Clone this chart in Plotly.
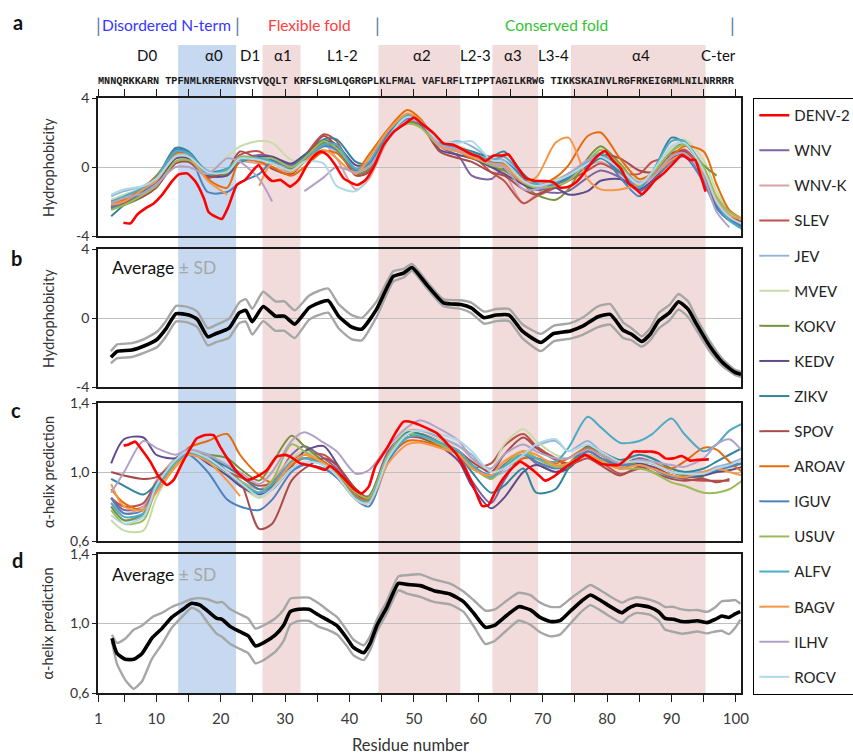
import plotly.graph_objects as go
from plotly.subplots import make_subplots

# ---------------- DATA ----------------
viruses = ["DENV-2", "WNV", "WNV-K", "SLEV", "JEV", "MVEV", "KOKV", "KEDV", "ZIKV",
           "SPOV", "AROAV", "IGUV", "USUV", "ALFV", "BAGV", "ILHV", "ROCV"]

# residue positions at which the (non DENV-2) profiles were read
grid_res = [3, 5, 8, 10, 13, 15, 18, 21, 23, 26, 28, 31, 33, 36, 38, 41, 43, 46, 49, 51,
            54, 57, 59, 62, 64, 67, 69, 72, 74, 77, 79, 82, 85, 87, 90, 92, 95, 97, 99, 101]

# panel a: hydrophobicity
hyd_wnv = [-2.3, -1.9, -1.4, -0.9, 0.6, 0.5, -0.6, -0.3, 0.4, 0.7, 0.6, 0.1, 0.5, 1.4, 1.0, -0.2, 0.1, 2.0, 2.8, 2.6,
           1.2, 0.6, -0.5, -0.7, -0.1, -1.0, -1.3, -1.5, -1.4, -0.6, -0.2, -0.6, -1.4, -0.9, 0.5, 1.0, -0.6, -2.2, -3.0, -3.3]
hyd_wnvk = [-2.0, -1.7, -1.3, -0.9, 0.5, 0.4, -0.4, -0.4, 0.3, 0.2, 0.0, -0.3, 0.3, 1.3, 0.5, -1.3, -0.7, 1.6, 2.8, 2.6,
            1.2, 0.9, 0.6, 0.2, -0.3, -2.1, -1.6, -1.0, -0.6, 0.1, 0.3, -0.4, -1.1, -0.6, 0.7, 0.9, -0.4, -2.0, -2.9, -3.2]
hyd_slev = [-2.4, -2.1, -1.6, -1.0, 0.4, 0.5, -0.5, -0.3, 0.7, 0.9, 0.3, -0.2, 0.6, 1.9, 1.5, -0.4, -0.2, 1.8, 2.9, 2.6,
            1.3, 1.0, 0.7, -0.3, -0.8, -2.1, -1.7, -1.2, -0.8, -0.2, 0.2, -0.3, -0.4, 0.3, 0.6, 1.0, -0.3, -1.9, -2.8, -3.1]
hyd_jev = [-1.7, -1.4, -1.1, -0.6, 0.7, 0.7, -0.2, -0.3, 0.4, 0.5, 0.3, -0.3, 0.3, 1.2, 0.9, -0.3, 0.1, 2.0, 3.0, 2.7,
           1.4, 1.5, 1.2, 0.5, 0.4, -0.6, -0.9, -0.8, -0.6, 0.0, 0.6, -0.2, -0.9, -0.5, 0.9, 1.3, -0.2, -1.8, -2.7, -3.0]
hyd_mvev = [-1.9, -1.6, -1.2, -0.7, 0.4, 0.5, -0.3, 0.6, 1.2, 1.5, 1.4, 0.4, 0.5, 1.6, 1.2, -0.2, 0.2, 2.0, 2.9, 2.6,
            1.5, 1.2, 0.9, 0.4, 0.2, -0.7, -1.1, -0.7, -0.4, 0.3, 0.8, 0.0, -0.8, -0.3, 1.1, 1.6, 0.4, -1.4, -2.6, -3.1]
hyd_kokv = [-2.4, -2.2, -1.7, -1.1, 0.3, 0.4, -0.5, -0.4, 0.5, 0.5, 0.2, -0.1, 0.5, 1.4, 1.0, -0.4, -0.1, 1.8, 2.6, 2.4,
            1.4, 1.0, 0.6, 0.0, -0.2, -1.0, -1.6, -1.9, -1.3, 0.5, 1.2, 0.2, -1.0, -0.5, 0.9, 1.4, 0.1, -0.5, None, None]
hyd_kedv = [-2.3, -2.0, -1.5, -1.0, 0.5, 0.5, -0.5, -0.5, 0.3, 0.6, 0.6, 0.2, 0.7, 1.5, 1.3, 0.1, 0.2, 1.9, 2.8, 2.5,
            1.0, 0.7, 0.5, 0.0, -0.4, -1.0, -1.3, -1.2, -1.6, -1.4, -0.8, -0.7, -1.3, -0.8, 0.4, 0.8, -0.7, -2.3, -3.1, -3.4]
hyd_zikv = [-2.85, -2.2, -1.4, -0.7, 1.1, 0.9, -0.3, -0.1, 0.3, 0.5, 0.4, 0.0, 0.6, 1.6, 1.6, 0.3, 0.2, 2.1, 3.0, 2.7,
            1.4, 1.1, 0.9, 0.6, 0.9, -0.4, -1.0, -1.0, -0.6, 0.0, 0.5, -0.3, -1.2, -0.4, 1.7, 1.4, -0.1, -2.0, -3.0, -3.5]
hyd_spov = [-2.3, -2.1, -1.7, -1.2, 0.2, 0.3, -0.6, -0.2, 0.9, 0.4, -0.1, -0.4, 0.4, 1.8, 1.2, -0.5, -0.3, 1.7, 2.7, 2.5,
            0.9, 0.5, 0.3, -0.3, -0.5, -1.3, -1.6, -1.0, -0.4, 0.2, 0.7, 0.5, -0.2, -0.3, 0.8, 0.9, -0.6, -2.1, -2.9, -3.2]
hyd_aroav = [-2.15, -1.9, -1.2, -0.5, 0.8, 0.8, -0.7, -1.2, 0.4, 0.3, 0.0, -0.5, 0.0, 0.9, 0.8, -0.2, 0.7, 2.2, 3.3, 2.8,
             1.3, 0.9, 0.5, 0.3, 0.2, -0.7, -1.1, -0.6, 0.1, 1.8, 2.0, 0.5, -0.7, -0.4, 0.6, 1.2, 0.9, -1.0, -2.5, -3.0]
hyd_iguv = [-2.4, -2.0, -1.5, -0.8, 1.0, 0.8, -1.45, -1.45, -0.9, -0.4, 0.3, 0.0, 0.4, 1.2, 1.0, -0.2, 0.2, 1.9, 2.8, 2.5,
            1.3, 0.9, 0.6, 0.2, 0.3, -0.6, -1.3, -1.0, -0.7, 0.1, 0.7, -0.6, -1.7, -0.9, 0.3, 0.6, -0.9, -2.4, -3.1, -3.4]
hyd_usuv = [-2.5, -2.2, -1.6, -1.1, 0.3, 0.4, -0.4, -0.2, 0.6, 0.5, 0.5, 0.0, 0.5, 1.5, 1.1, -0.1, 0.0, 1.7, 2.5, 2.3,
            1.2, 0.9, 0.6, 0.1, 0.0, -0.9, -1.2, -1.1, -0.8, 0.3, 1.0, 0.1, -1.0, -0.4, 0.9, 1.3, 0.0, -1.7, -2.6, -3.0]
hyd_alfv = [-2.0, -1.7, -1.2, -0.6, 0.9, 0.8, -0.4, -0.1, 0.4, 0.5, 0.3, -0.2, 0.3, 1.3, 1.3, -0.1, 0.3, 2.1, 3.0, 2.7,
            1.4, 1.1, 0.8, 0.4, 0.6, -0.5, -1.0, -0.9, -0.4, 0.3, 0.8, -0.2, -1.2, -0.3, 1.5, 1.5, -0.2, -2.1, -3.1, -3.6]
hyd_bagv = [-2.2, -2.0, -1.3, -0.8, 0.6, 0.6, -0.8, -1.6, None, -1.1, 0.2, -0.3, 0.3, 1.0, 0.5, -0.4, 0.5, 2.1, 3.1, 2.7,
            1.2, 0.9, 0.6, 0.2, 0.1, -0.9, -0.6, 1.4, 1.7, -0.7, -1.3, -1.3, -1.0, -0.6, 0.4, 0.7, -0.3, -1.9, -2.8, -3.0]
hyd_ilhv = [-2.1, -1.8, -1.5, -1.0, 0.0, 0.0, -0.4, 0.5, 0.3, -0.7, -2.0, None, -1.4, -0.6, 0.0, -0.3, 0.0, 1.6, 2.7, 2.6,
            1.3, 1.0, 0.7, 0.2, 0.0, -1.3, -1.3, -0.8, -0.4, 0.4, 0.6, -0.1, -0.9, -0.6, 0.6, 0.8, -0.6, -2.6, -3.5, None]
hyd_rocv = [-1.6, -1.3, -1.1, -0.7, 0.6, 0.6, -0.3, -0.3, 0.5, 0.4, 0.2, -0.2, 0.3, 0.2, -1.1, -1.4, -0.5, 1.7, 2.9, 2.6,
            1.5, 1.4, 1.5, 0.4, 0.3, -0.8, -1.1, -0.8, -0.5, 0.2, 0.6, -0.1, -1.0, -0.3, 1.2, 1.4, -0.2, -2.0, -2.9, -3.3]

# panel c: alpha-helix prediction
hel_wnv = [0.85, 0.78, 0.80, 0.92, 1.05, 1.12, 1.10, 1.00, 0.93, 0.87, 0.92, 1.10, 1.15, 1.08, 1.02, 0.87, 0.86, 1.12, 1.23, 1.22,
           1.17, 1.10, 0.95, 0.82, 0.95, 1.10, 1.05, 1.00, 1.04, 1.14, 1.10, 1.05, 1.08, 1.06, 1.00, 0.99, 1.00, 1.02, 1.04, 1.05]
hel_wnvk = [0.82, 0.76, 0.80, 0.95, 1.08, 1.13, 1.08, 1.00, 0.95, 0.90, 0.95, 1.08, 1.10, 1.05, 1.00, 0.85, 0.84, 1.10, 1.24, 1.24,
            1.20, 1.15, 1.08, 1.00, 1.06, 1.12, 1.06, 1.00, 1.03, 1.12, 1.10, 1.03, 1.07, 1.05, 1.00, 0.98, 0.98, 1.00, 1.02, 1.05]
hel_slev = [0.85, 0.80, 0.82, 0.94, 1.06, 1.12, 1.07, 1.00, 0.97, 0.92, 0.94, 1.06, 1.10, 1.10, 1.04, 0.90, 0.85, 1.10, 1.22, 1.22,
            1.18, 1.12, 1.03, 1.05, 1.15, 1.22, 1.15, 1.08, 1.05, 1.10, 1.06, 0.99, 1.02, 1.03, 0.98, 0.96, 0.95, 0.95, 0.95, None]
hel_jev = [0.80, 0.72, 0.75, 0.93, 1.07, 1.13, 1.08, 1.00, 0.94, 0.88, 0.90, 1.02, 1.04, 1.02, 0.97, 0.87, 0.85, 1.08, 1.22, 1.24,
           1.20, 1.15, 1.10, 0.98, 1.00, 1.08, 1.15, 1.18, 1.12, 1.18, 1.12, 1.05, 1.10, 1.08, 1.02, 1.00, 1.00, 1.03, 1.05, 1.08]
hel_mvev = [0.72, 0.66, 0.66, 0.85, 1.04, 1.11, 1.06, 0.98, 0.92, 0.85, 0.90, 1.08, 1.12, 1.06, 1.00, 0.86, 0.83, 1.10, 1.24, 1.22,
            1.18, 1.12, 1.05, 1.02, 1.16, 1.25, 1.18, 1.10, 1.08, 1.15, 1.12, 1.05, 1.10, 1.07, 1.02, 1.00, 0.98, 1.00, 1.02, 1.05]
hel_kokv = [0.80, 0.72, 0.76, 0.92, 1.05, 1.10, 1.10, 1.08, 1.02, 0.95, 1.05, 1.21, 1.15, 1.06, 1.00, 0.88, 0.86, 1.10, 1.22, 1.22,
            1.17, 1.12, 1.04, 0.96, 1.04, 1.12, 1.08, 1.03, 1.05, 1.15, 1.10, 1.04, 1.06, 1.05, 1.00, 0.98, 0.97, None, None, None]
hel_kedv = [1.05, 1.19, 1.20, 1.10, 1.08, 1.12, 1.05, 0.98, 0.92, 0.87, 0.90, 1.03, 1.12, 1.15, 1.05, 0.88, 0.84, 1.10, 1.22, 1.20,
            1.15, 1.06, 0.92, 0.79, 0.85, 1.00, 1.04, 1.00, 1.02, 1.12, 1.08, 1.02, 1.05, 1.03, 0.98, 0.97, 0.98, 1.00, 1.01, 1.03]
hel_zikv = [0.96, 0.92, 0.87, 0.93, 1.05, 1.10, 1.08, 1.03, 0.98, 0.90, 0.92, 1.05, 1.08, 1.04, 1.00, 0.86, 0.84, 1.10, 1.23, 1.22,
            1.17, 1.10, 1.00, 0.88, 0.92, 1.02, 0.88, 0.90, 1.02, 1.15, 1.12, 1.07, 1.10, 1.08, 1.02, 1.00, 1.02, 1.06, 1.10, 1.14]
hel_spov = [1.00, 0.98, 0.96, 0.97, 1.06, 1.12, 1.08, 1.00, 0.95, 0.67, 0.70, 0.95, 1.02, 1.08, 1.04, 0.90, 0.85, 1.08, 1.20, 1.20,
            1.16, 1.12, 1.06, 1.00, 1.10, 1.20, 1.14, 1.07, 1.04, 1.08, 1.04, 0.98, 1.03, 1.00, 0.96, 0.95, 0.96, 0.94, 0.96, None]
hel_aroav = [0.90, 0.82, 0.78, 0.90, 1.05, 1.14, 1.18, 1.22, 1.10, 0.98, 0.94, 1.04, 1.08, 1.06, 1.00, 0.86, 0.84, 1.08, 1.18, 1.18,
             1.15, 1.10, 1.03, 0.97, 1.02, 1.08, 1.08, 1.05, 1.08, 1.14, 1.10, 1.06, 1.06, 1.05, 1.02, 1.06, 1.14, 1.13, 1.06, 1.00]
hel_iguv = [0.85, 0.76, 0.78, 0.92, 1.06, 1.10, 1.00, 0.84, 0.80, 0.78, 0.84, 1.00, 1.04, 1.02, 0.97, 0.84, 0.80, 1.06, 1.20, 1.21,
            1.17, 1.12, 1.04, 0.98, 1.04, 1.10, 1.06, 1.02, 1.04, 1.12, 1.08, 1.04, 1.04, 1.02, 0.97, 0.97, 0.99, 1.01, 1.03, 1.05]
hel_usuv = [0.78, 0.70, 0.72, 0.90, 1.05, 1.12, 1.08, 1.00, 0.95, 0.88, 0.95, 1.16, 1.12, 1.05, 1.00, 0.88, 0.85, 1.10, 1.22, 1.21,
            1.16, 1.10, 1.03, 0.96, 1.03, 1.12, 1.08, 1.03, 1.04, 1.10, 1.07, 1.02, 1.02, 1.00, 0.94, 0.92, 0.88, 0.88, 0.90, 0.95]
hel_alfv = [0.82, 0.74, 0.76, 0.90, 1.06, 1.11, 1.07, 1.00, 0.94, 0.88, 0.93, 1.06, 1.08, 1.04, 0.98, 0.85, 0.83, 1.08, 1.20, 1.21,
            1.17, 1.12, 1.04, 0.97, 1.03, 1.10, 1.08, 1.06, 1.14, 1.32, 1.26, 1.17, 1.18, 1.22, 1.31, 1.22, 1.12, 1.16, 1.24, 1.28]
hel_bagv = [0.93, 0.80, 0.78, 0.88, 1.03, 1.10, 1.06, 0.95, 0.86, None, 0.90, 1.05, 1.10, 1.05, 0.98, 0.84, 0.82, 1.05, 1.16, 1.17,
            1.14, 1.10, 1.02, 0.98, 1.06, 1.12, 1.10, 1.04, 1.05, 1.10, 1.06, 1.02, 1.04, 1.02, 0.98, 0.97, 1.00, 1.02, 1.00, 0.98]
hel_ilhv = [0.88, 1.00, 1.18, 1.14, 1.10, 1.13, 1.10, 1.04, 1.00, 0.93, 1.00, 1.18, 1.23, 1.17, 1.12, 0.99, 1.01, 1.15, 1.26, 1.30,
            1.25, 1.18, 1.08, 1.02, 1.10, 1.16, 1.12, 1.08, 1.08, 1.13, 1.10, 1.05, 1.07, 1.06, 1.04, 1.03, 1.08, 1.16, 1.19, 1.12]
hel_rocv = [0.75, 0.70, 0.74, 0.92, 1.07, 1.12, 1.08, 1.00, 0.94, 0.86, 0.90, 1.02, 1.06, 1.04, 0.98, 0.84, 0.82, 1.08, 1.22, 1.24,
            1.22, 1.18, 1.12, 1.00, 1.02, 1.10, 1.16, 1.19, 1.12, 1.16, 1.12, 1.06, 1.06, 1.05, 1.00, 0.99, 0.99, 1.02, 1.04, 1.07]

# DENV-2 profiles (residue, value)
denv_hyd = [(4.9, -3.23), (6.0, -3.27), (7.0, -2.78), (8.3, -2.40), (9.6, -2.11), (10.9, -1.62), (12.4, -0.85),
            (13.5, -0.43), (14.8, -0.37), (16.1, -0.85), (17.4, -1.82), (18.1, -2.59), (19.2, -2.88), (20.2, -3.01),
            (21.2, -2.30), (22.5, -1.04), (23.8, -0.75), (25.1, -0.17), (25.9, 0.12), (26.9, -0.46), (28.0, -0.81),
            (29.3, -0.75), (30.8, -1.14), (32.1, -0.75), (33.4, 0.12), (34.4, 0.60), (35.5, 0.89), (36.5, 0.73),
            (37.8, 0.12), (39.1, -0.66), (41.2, -1.04), (42.5, -0.75), (43.8, 0.02), (45.3, 1.28), (46.9, 2.05),
            (48.7, 2.53), (50.0, 2.86), (51.5, 2.43), (53.1, 1.95), (54.6, 1.37), (56.2, 1.28), (57.7, 0.99),
            (59.0, 0.73), (60.1, 0.60), (61.1, 0.35), (62.4, 0.66), (63.7, 0.66), (64.7, 0.73), (66.0, 0.02),
            (67.3, -0.62), (68.9, -0.81), (70.4, -0.81), (71.7, -0.89), (72.7, -1.20), (74.0, -1.14), (75.3, -0.85),
            (76.4, -0.37), (77.7, 0.31), (78.7, 0.70), (79.7, 0.93), (80.8, 0.41), (82.1, -0.08), (83.4, -0.95),
            (84.4, -1.24), (85.4, -1.58), (86.5, -1.20), (87.5, -0.75), (88.8, -0.37), (90.3, 0.21), (91.6, 0.70),
            (92.9, 0.41), (93.7, 0.41), (94.5, -0.46), (95.3, -1.43)]
denv_hel = [(4.93, 1.153), (5.7, 1.160), (6.74, 1.176), (7.78, 1.128), (9.07, 1.060), (10.37, 0.973), (11.66, 0.925),
            (12.7, 0.954), (14.0, 1.050), (15.3, 1.137), (16.3, 1.195), (17.6, 1.214), (18.9, 1.214), (19.9, 1.147),
            (21.2, 1.070), (22.5, 1.002), (24.1, 0.954), (25.6, 0.973), (27.2, 1.012), (28.7, 1.089), (30.0, 1.099),
            (30.8, 1.089), (32.4, 1.050), (33.7, 1.041), (34.95, 1.027), (36.2, 1.012), (37.0, 1.035), (38.3, 0.996),
            (39.6, 0.944), (40.6, 0.905), (41.9, 0.876), (43.0, 0.915), (44.0, 1.031), (45.8, 1.137), (47.1, 1.224),
            (48.4, 1.292), (50.0, 1.286), (51.5, 1.263), (53.6, 1.224), (55.1, 1.166), (56.7, 1.099), (58.3, 0.992),
            (59.5, 0.896), (60.6, 0.803), (61.6, 0.809), (62.65, 0.886), (63.9, 0.963), (65.5, 1.031), (66.5, 1.060),
            (67.8, 1.031), (69.1, 0.992), (70.4, 0.950), (71.7, 0.973), (73.3, 1.021), (75.3, 1.070), (76.6, 1.099),
            (77.9, 1.073), (79.2, 1.046), (80.5, 1.041), (81.8, 1.041), (83.1, 1.079), (84.1, 1.118), (85.7, 1.118),
            (87.0, 1.118), (88.0, 1.108), (89.05, 1.079), (90.3, 1.079), (91.6, 1.093), (92.9, 1.066), (93.96, 1.070),
            (95.8, 1.073)]

# panel b: average hydrophobicity (residue, mean, SD)
hyd_avg = [(2.95, -2.28, 0.35), (3.93, -1.93, 0.4), (6.22, -1.86, 0.4), (8.18, -1.61, 0.4), (10.15, -1.23, 0.45),
           (11.46, -0.65, 0.45), (13.09, 0.25, 0.45), (15.06, 0.17, 0.45), (16.37, -0.08, 0.45), (18.0, -1.09, 0.5),
           (19.3, -0.90, 0.5), (21.3, -0.59, 0.55), (22.9, 0.31, 0.6), (23.9, 0.44, 0.65), (24.9, -0.21, 0.75),
           (26.6, 0.67, 0.85), (28.5, 0.11, 0.85), (29.9, 0.11, 0.85), (31.5, -0.36, 0.8), (33.7, 0.59, 0.7),
           (35.3, 0.88, 0.7), (36.7, 1.01, 0.7), (38.3, 0.11, 0.7), (40.3, -0.52, 0.7), (41.9, -0.65, 0.65),
           (44.2, 0.50, 0.45), (46.8, 2.41, 0.3), (48.4, 2.60, 0.25), (49.7, 2.93, 0.2), (52.0, 1.93, 0.2),
           (54.6, 0.88, 0.2), (57.3, 0.78, 0.25), (58.9, 0.59, 0.3), (60.9, 0.02, 0.35), (62.8, 0.17, 0.35),
           (64.8, 0.17, 0.35), (66.8, -0.75, 0.4), (69.7, -1.42, 0.5), (71.7, -0.90, 0.45), (74.3, -0.75, 0.45),
           (76.3, -0.46, 0.5), (78.5, 0.06, 0.6), (80.5, 0.21, 0.6), (82.5, -0.71, 0.45), (83.8, -0.94, 0.35),
           (85.4, -1.36, 0.3), (86.7, -0.94, 0.35), (88.0, -0.17, 0.45), (89.7, 0.31, 0.45), (91.1, 0.94, 0.45),
           (92.6, 0.50, 0.45), (93.9, -0.36, 0.35), (95.9, -1.61, 0.3), (97.9, -2.57, 0.2), (99.8, -3.14, 0.15),
           (100.8, -3.27, 0.15)]

# panel d: average alpha-helix prediction (residue, mean, SD)
hel_avg = [(3.12, 0.915, 0.02), (3.9, 0.828, 0.06), (5.2, 0.794, 0.12), (6.5, 0.794, 0.17), (7.8, 0.828, 0.16),
           (9.3, 0.915, 0.12), (10.9, 0.972, 0.09), (12.4, 1.035, 0.06), (14.0, 1.078, 0.04), (15.5, 1.116, 0.025),
           (16.8, 1.106, 0.04), (18.1, 1.068, 0.07), (19.4, 1.03, 0.09), (20.2, 1.024, 0.1), (21.5, 0.982, 0.1),
           (23.0, 0.953, 0.1), (24.3, 0.928, 0.1), (25.4, 0.871, 0.1), (26.7, 0.89, 0.1), (28.5, 0.934, 0.096),
           (29.8, 0.991, 0.09), (30.8, 1.068, 0.075), (32.1, 1.082, 0.067), (33.7, 1.082, 0.067), (35.2, 1.049, 0.067),
           (36.8, 1.016, 0.055), (38.1, 0.986, 0.05), (39.6, 0.915, 0.045), (40.6, 0.863, 0.045), (42.2, 0.832, 0.043),
           (43.2, 0.886, 0.04), (44.3, 0.991, 0.035), (45.8, 1.093, 0.035), (47.6, 1.231, 0.04), (48.9, 1.225, 0.053),
           (51.0, 1.218, 0.065), (53.1, 1.189, 0.065), (55.6, 1.170, 0.06), (57.7, 1.126, 0.058), (59.3, 1.059, 0.075),
           (61.1, 0.978, 0.096), (62.6, 0.991, 0.09), (64.5, 1.049, 0.085), (66.3, 1.097, 0.08), (68.1, 1.078, 0.085),
           (69.6, 1.035, 0.085), (71.2, 1.011, 0.085), (72.7, 1.016, 0.08), (74.5, 1.078, 0.07), (76.1, 1.131, 0.06),
           (77.4, 1.164, 0.058), (78.9, 1.135, 0.058), (80.7, 1.093, 0.058), (82.3, 1.062, 0.058), (83.3, 1.087, 0.05),
           (84.6, 1.106, 0.045), (86.7, 1.093, 0.043), (88.0, 1.068, 0.05), (89.0, 1.030, 0.065), (90.3, 1.024, 0.072),
           (91.6, 1.011, 0.07), (92.7, 1.011, 0.065), (94.0, 1.016, 0.062), (95.5, 1.005, 0.062), (96.8, 1.024, 0.07),
           (97.8, 1.043, 0.085), (98.9, 1.035, 0.096), (99.9, 1.055, 0.08), (100.7, 1.068, 0.045)]

# structural elements (start residue, end residue)
helix_a0 = (13.4, 22.4)
helices_pink = [(26.5, 32.4), (44.5, 57.2), (62.2, 69.3), (74.4, 95.3)]
element_names = ["D0", "α0", "D1", "α1", "L1-2", "α2", "L2-3", "α3", "L3-4", "α4", "C-ter"]
element_centres = [8.6, 18.9, 24.6, 29.6, 38.9, 51.3, 59.5, 65.4, 71.7, 85.2, 97.3]
domain_names = ["Disordered N-term", "Flexible fold", "Conserved fold"]
domain_centres = [11.6, 33.8, 72.2]
domain_bars = [1.0, 22.6, 44.4, 99.5]
sequence = "MNNQRKKARN TPFNMLKRERNRVSTVQQLT KRFSLGMLQGRGPLKLFMAL VAFLRFLTIPPTAGILKRWG TIKKSKAINVLRGFRKEIGRMLNILNRRRR"

x_tick_vals = [1] + list(range(5, 101, 5))
x_tick_text = [str(v) if (v == 1 or v % 10 == 0) else "" for v in x_tick_vals]

# ---------------- STYLE ----------------
colors = ["#ff0000", "#8064a2", "#d9a3a3", "#c0504d", "#95b3d7", "#c9dba8", "#77933c", "#5f4b8b", "#31859c",
          "#a94b4b", "#e46c0a", "#4f81bd", "#9bbb59", "#4bacc6", "#f79646", "#b3a2c7", "#b0d8e6"]
FONT = "Lato"
W, H = 853, 754
ML, MR, MT, MB = 98, 112.3, 98, 61
PW, PH = W - ML - MR, H - MT - MB


def px(xp):
    return (xp - ML) / PW


def py(yp):
    return (H - MB - yp) / PH


hyd_series = [hyd_wnv, hyd_wnvk, hyd_slev, hyd_jev, hyd_mvev, hyd_kokv, hyd_kedv, hyd_zikv, hyd_spov,
              hyd_aroav, hyd_iguv, hyd_usuv, hyd_alfv, hyd_bagv, hyd_ilhv, hyd_rocv]
hel_series = [hel_wnv, hel_wnvk, hel_slev, hel_jev, hel_mvev, hel_kokv, hel_kedv, hel_zikv, hel_spov,
              hel_aroav, hel_iguv, hel_usuv, hel_alfv, hel_bagv, hel_ilhv, hel_rocv]

fig = make_subplots(rows=4, cols=1, shared_xaxes=True)

# other flaviviruses
for i, name in enumerate(viruses[1:]):
    col = colors[i + 1]
    fig.add_trace(go.Scatter(x=grid_res, y=hyd_series[i], mode="lines", name=name, legendgroup=name,
                             legendrank=i + 2, line=dict(color=col, width=2, shape="spline", smoothing=0.8),
                             hoverinfo="skip"), row=1, col=1)
    fig.add_trace(go.Scatter(x=grid_res, y=hel_series[i], mode="lines", name=name, legendgroup=name,
                             showlegend=False, legendrank=i + 2,
                             line=dict(color=col, width=2, shape="spline", smoothing=0.8),
                             hoverinfo="skip"), row=3, col=1)

# DENV-2 on top
fig.add_trace(go.Scatter(x=[p[0] for p in denv_hyd], y=[p[1] for p in denv_hyd], mode="lines", name="DENV-2",
                         legendgroup="DENV-2", legendrank=1,
                         line=dict(color=colors[0], width=2.6, shape="spline", smoothing=0.5)), row=1, col=1)
fig.add_trace(go.Scatter(x=[p[0] for p in denv_hel], y=[p[1] for p in denv_hel], mode="lines", name="DENV-2",
                         legendgroup="DENV-2", legendrank=1, showlegend=False,
                         line=dict(color=colors[0], width=2.6, shape="spline", smoothing=0.5)), row=3, col=1)

# averages +/- SD
for pts, row in [(hyd_avg, 2), (hel_avg, 4)]:
    xs = [p[0] for p in pts]
    up = [p[1] + p[2] for p in pts]
    lo = [p[1] - p[2] for p in pts]
    for yy in (up, lo):
        fig.add_trace(go.Scatter(x=xs, y=yy, mode="lines", showlegend=False,
                                 line=dict(color="#a6a6a6", width=2.4, shape="spline", smoothing=0.5)),
                      row=row, col=1)
    fig.add_trace(go.Scatter(x=xs, y=[p[1] for p in pts], mode="lines", showlegend=False,
                             line=dict(color="#000000", width=3.6, shape="spline", smoothing=0.5)),
                  row=row, col=1)

# shaded structural elements spanning all panels
top_shade = py(45)
fig.add_shape(type="rect", xref="x", yref="paper", x0=helix_a0[0], x1=helix_a0[1], y0=0, y1=top_shade,
              fillcolor="#c6d9f0", line_width=0, layer="below")
for a, b in helices_pink:
    fig.add_shape(type="rect", xref="x", yref="paper", x0=a, x1=b, y0=0, y1=top_shade,
                  fillcolor="#f2dcdb", line_width=0, layer="below")

# axes
axline = dict(showline=True, linecolor="#1a1a1a", linewidth=1.5, mirror=True, zeroline=False, showgrid=False)
fig.update_xaxes(range=[0.95, 100.8], tickvals=x_tick_vals, ticktext=x_tick_text, **axline)
fig.update_xaxes(side="top", ticks="outside", ticklen=7, tickcolor="#1a1a1a", showticklabels=False, row=1, col=1)
fig.update_xaxes(ticks="", showticklabels=False, row=2, col=1)
fig.update_xaxes(ticks="", showticklabels=False, row=3, col=1)
fig.update_xaxes(ticks="outside", ticklen=7, tickcolor="#1a1a1a", showticklabels=True, ticklabelstandoff=4,
                 tickfont=dict(family=FONT, size=15, color="#3a3a3a"), row=4, col=1)

yax_common = dict(showline=True, linecolor="#1a1a1a", linewidth=1.5, mirror=True, zeroline=False,
                  showgrid=True, gridcolor="#bfbfbf", gridwidth=1, ticks="outside", ticklen=4,
                  tickcolor="#1a1a1a", tickfont=dict(family=FONT, size=14, color="#333333"))
for r in (1, 2):
    fig.update_yaxes(range=[-4, 4], tickvals=[-4, 0, 4], ticktext=["-4", "0", "4"], row=r, col=1, **yax_common)
for r in (3, 4):
    fig.update_yaxes(range=[0.6, 1.4], tickvals=[0.6, 1.0, 1.4], ticktext=["0,6", "1,0", "1,4"],
                     row=r, col=1, **yax_common)

panels = [(98, 236), (249, 387), (403, 541), (554, 693)]
fig.update_layout(
    yaxis=dict(domain=[py(panels[0][1]), py(panels[0][0])]),
    yaxis2=dict(domain=[py(panels[1][1]), py(panels[1][0])]),
    yaxis3=dict(domain=[py(panels[2][1]), py(panels[2][0])]),
    yaxis4=dict(domain=[max(0, py(panels[3][1])), py(panels[3][0])]),
)


def note(text, x, y, size, color="#111", xref="paper", xanchor="center", angle=0, family=FONT, weight="normal"):
    return dict(text=text, x=x, y=y, xref=xref, yref="paper", xanchor=xanchor, yanchor="middle",
                textangle=angle, showarrow=False,
                font=dict(family=family, size=size, color=color, weight=weight))


ann = []
# panel letters
for letter, (lx, ly) in zip("abcd", [(18, 22), (17, 258), (16, 410), (18, 560)]):
    ann.append(note(f"<b>{letter}</b>", px(lx), py(ly), 20))
# y titles
for t, (a, b) in zip(["Hydrophobicity", "Hydrophobicity", "α-helix prediction", "α-helix prediction"], panels):
    ann.append(note(t, px(48), py((a + b) / 2), 14.5, color="#333", angle=-90))
# x title
ann.append(note("Residue number", px(410), py(745), 16.5, color="#333"))
# Average +/- SD labels
for yy in (267, 574):
    ann.append(note("Average <span style='color:#a6a6a6'>± SD</span>", px(110), py(yy), 17.5,
                    xanchor="left"))
# header: domains
dom_colors = ["#3535ff", "#ff3b3b", "#33c233"]
for name, c, col in zip(domain_names, domain_centres, dom_colors):
    ann.append(note(name, c, py(25), 15.5, color=col, xref="x"))
for bx in domain_bars:
    ann.append(note("|", bx, py(25), 19, color="#5f7fa8", xref="x"))
for name, c in zip(element_names, element_centres):
    ann.append(note(name, c, py(55), 15, xref="x"))
ann.append(note(sequence, px(96), py(81), 10.2, color="#1a1a1a", xanchor="left",
                family="Liberation Mono", weight="bold"))

fig.update_layout(
    width=W, height=H,
    margin=dict(l=ML, r=MR, t=MT, b=MB, autoexpand=False),
    paper_bgcolor="white", plot_bgcolor="rgba(0,0,0,0)",
    font=dict(family=FONT, color="#222"),
    annotations=ann,
    showlegend=True,
    legend=dict(x=px(753), y=1.0, xanchor="left", yanchor="top", bordercolor="#000", borderwidth=1,
                bgcolor="white", font=dict(family=FONT, size=15, color="#222"), tracegroupgap=12.6,
                itemwidth=30, traceorder="grouped", maxheight=650),
)

fig.write_html("out.html")
